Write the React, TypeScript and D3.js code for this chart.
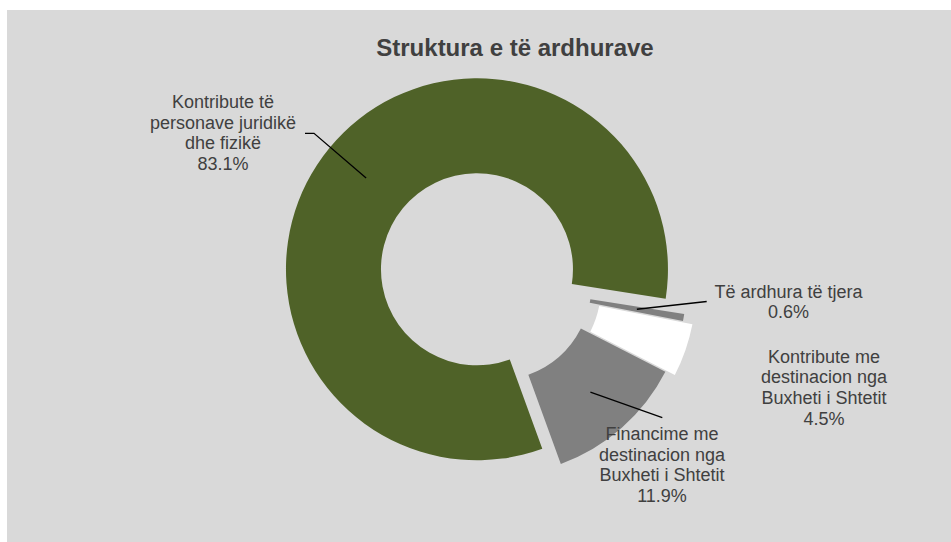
import React from "react";
import * as d3 from "d3";

const categories = [
  "Kontribute të personave juridikë dhe fizikë",
  "Të ardhura të tjera",
  "Kontribute me destinacion nga Buxheti i Shtetit",
  "Financime me destinacion nga Buxheti i Shtetit",
];
const values = [83.1, 0.6, 4.5, 11.9];
const labelLines = [
  ["Kontribute të", "personave juridikë", "dhe fizikë"],
  ["Të ardhura të tjera"],
  ["Kontribute me", "destinacion nga", "Buxheti i Shtetit"],
  ["Financime me", "destinacion nga", "Buxheti i Shtetit"],
];
const percentLabels = ["83.1%", "0.6%", "4.5%", "11.9%"];
const title = "Struktura e të ardhurave";

const colors = ["#4f6228", "#808080", "#ffffff", "#808080"];
const explode = [24, 0, 10, 0];
// label anchor (center x, first baseline y) and leader elbow points
const labelPos: [number, number][] = [
  [223, 108],
  [788.5, 297.5],
  [824, 362.7],
  [662, 440],
];
const leaderPts: ([number, number][] | null)[] = [
  [
    [314, 133.3],
    [305, 133.3],
  ],
  [[706.7, 301.5]],
  null,
  [[662.3, 417.7]],
];

const W = 951;
const H = 542;
const cx = 495.5;
const cy = 284.5;
const R = 191;
const r0 = 96;
const startDeg = 160;

export default function App() {
  const pie = d3
    .pie<number>()
    .sort(null)
    .value((d) => d)
    .startAngle((startDeg * Math.PI) / 180)
    .endAngle(((startDeg + 360) * Math.PI) / 180);
  const arcs = pie(values);
  const arc = d3.arc<d3.PieArcDatum<number>>().innerRadius(r0).outerRadius(R);
  const lh = 20.7;
  const textColor = "#404040";

  return (
    <svg
      width={W}
      height={H}
      style={{ position: "absolute", left: 0, top: 0, display: "block" }}
      fontFamily="'Liberation Sans', Arial, sans-serif"
    >
      <rect x={0} y={0} width={W} height={H} fill="#ffffff" />
      <rect x={7} y={10} width={W - 7} height={H - 10} fill="#d9d9d9" />
      <text
        x={515}
        y={56}
        textAnchor="middle"
        fontSize={24}
        fontWeight="bold"
        fill={textColor}
      >
        {title}
      </text>
      {arcs.map((a, i) => {
        const mid = (a.startAngle + a.endAngle) / 2;
        const dx = Math.sin(mid) * explode[i];
        const dy = -Math.cos(mid) * explode[i];
        return (
          <path
            key={categories[i]}
            d={arc(a) || ""}
            fill={colors[i]}
            transform={`translate(${cx + dx},${cy + dy})`}
          />
        );
      })}
      {arcs.map((a, i) => {
        const pts = leaderPts[i];
        if (!pts) return null;
        const mid = (a.startAngle + a.endAngle) / 2;
        const dx = Math.sin(mid) * explode[i];
        const dy = -Math.cos(mid) * explode[i];
        const c = arc.centroid(a);
        const all: [number, number][] = [[cx + dx + c[0], cy + dy + c[1]], ...pts];
        return (
          <path
            key={"l" + i}
            d={d3.line()(all) || ""}
            fill="none"
            stroke="#000000"
            strokeWidth={1.3}
          />
        );
      })}
      {labelLines.map((lines, i) => (
        <text
          key={"t" + i}
          x={labelPos[i][0]}
          y={labelPos[i][1]}
          textAnchor="middle"
          fontSize={18}
          fill={textColor}
        >
          {[...lines, percentLabels[i]].map((s, j) => (
            <tspan key={j} x={labelPos[i][0]} y={labelPos[i][1] + j * lh}>
              {s}
            </tspan>
          ))}
        </text>
      ))}
    </svg>
  );
}
